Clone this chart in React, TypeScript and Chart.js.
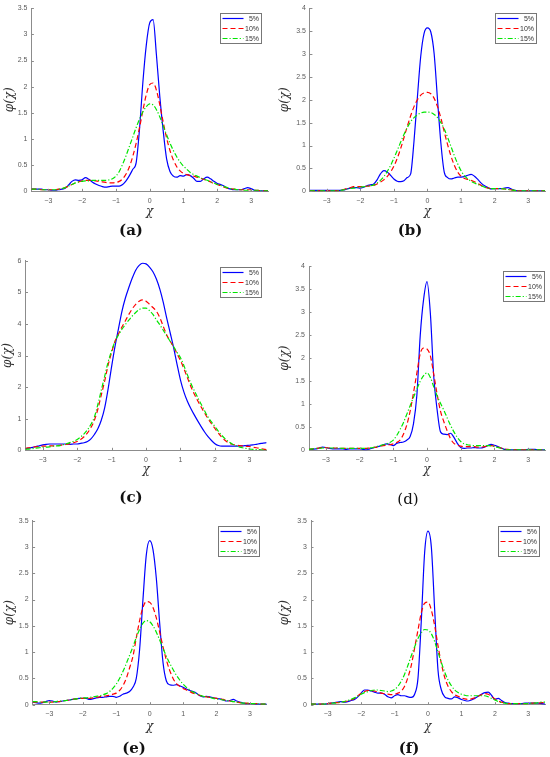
import React, { useEffect, useRef } from 'react';
import { Chart, registerables } from 'chart.js';

Chart.register(...registerables);

// x grid (chi)
const X = [
  -3.5, -3.4, -3.3, -3.2, -3.1, -3.0, -2.9, -2.8, -2.7, -2.6,
  -2.5, -2.4, -2.3, -2.2, -2.1, -2.0, -1.9, -1.8, -1.7, -1.6,
  -1.5, -1.4, -1.3, -1.2, -1.1, -1.0, -0.9, -0.8, -0.7, -0.6,
  -0.5, -0.4, -0.3, -0.2, -0.1, 0.0, 0.1, 0.2, 0.3, 0.4,
  0.5, 0.6, 0.7, 0.8, 0.9, 1.0, 1.1, 1.2, 1.3, 1.4,
  1.5, 1.6, 1.7, 1.8, 1.9, 2.0, 2.1, 2.2, 2.3, 2.4,
  2.5, 2.6, 2.7, 2.8, 2.9, 3.0, 3.1, 3.2, 3.3, 3.4, 3.5,
];

const SERIES_LABELS = ['5%', '10%', '15%'];

// (a)
const A5 = [
  .04, .04, .04, .04, .03, .03, .02, .02, .03, .04,
  .06, .12, .19, .22, .21, .22, .26, .23, .18, .14,
  .11, .09, .08, .09, .10, .10, .10, .13, .20, .30,
  .42, .55, 1.2, 2.1, 2.8, 3.22, 3.28, 2.6, 1.8, 1.15,
  .62, .38, .29, .27, .30, .29, .32, .30, .25, .19,
  .19, .24, .27, .24, .19, .15, .13, .10, .06, .04,
  .03, .03, .03, .05, .07, .05, .02, .01, .01, .01, .01,
];
const A10 = [
  .04, .04, .04, .03, .03, .03, .03, .03, .04, .05,
  .07, .10, .13, .16, .18, .20, .21, .21, .21, .20,
  .19, .18, .17, .16, .16, .17, .19, .24, .33, .47,
  .67, .92, 1.22, 1.55, 1.85, 2.04, 2.07, 1.93, 1.65, 1.32,
  1.02, .78, .60, .47, .39, .34, .32, .30, .29, .27,
  .25, .23, .21, .18, .15, .13, .11, .08, .06, .05,
  .04, .03, .03, .03, .03, .03, .02, .02, .01, .01, .01,
];
const A15 = [
  .04, .04, .04, .03, .03, .03, .03, .03, .04, .05,
  .07, .10, .13, .16, .18, .19, .20, .20, .21, .21,
  .21, .21, .21, .22, .24, .29, .38, .52, .68, .86,
  1.04, 1.22, 1.38, 1.52, 1.62, 1.67, 1.65, 1.56, 1.42, 1.25,
  1.08, .92, .78, .66, .56, .48, .42, .36, .32, .29,
  .26, .23, .21, .18, .16, .13, .11, .09, .07, .05,
  .04, .03, .03, .02, .02, .02, .02, .02, .01, .01, .01,
];

// (b)
const B5 = [
  .02, .02, .02, .02, .02, .02, .02, .02, .02, .02,
  .03, .05, .07, .08, .08, .07, .09, .12, .14, .16,
  .25, .38, .45, .42, .35, .27, .22, .21, .23, .30,
  .38, 1.1, 2.05, 2.95, 3.45, 3.57, 3.48, 3.0, 2.0, 1.05,
  .42, .30, .27, .29, .31, .31, .32, .35, .37, .33,
  .26, .18, .12, .08, .05, .06, .06, .06, .07, .08,
  .05, .02, .01, .01, .01, .01, .01, .01, .01, .01, .01,
];
const B10 = [
  .01, .01, .01, .01, .01, .01, .01, .01, .01, .02,
  .04, .06, .08, .10, .10, .10, .10, .11, .12, .13,
  .16, .20, .25, .32, .42, .55, .72, .93, 1.17, 1.42,
  1.65, 1.85, 2.0, 2.1, 2.15, 2.16, 2.13, 2.03, 1.85, 1.6,
  1.3, 1.02, .77, .57, .42, .33, .28, .26, .24, .21,
  .17, .13, .09, .07, .06, .06, .06, .06, .05, .04,
  .03, .02, .01, .01, .01, .01, .01, .01, .01, .01, .01,
];
const B15 = [
  .01, .01, .01, .01, .01, .01, .01, .01, .01, .02,
  .03, .05, .06, .07, .08, .09, .10, .11, .12, .14,
  .18, .24, .32, .43, .56, .72, .89, 1.07, 1.24, 1.39,
  1.52, 1.61, 1.67, 1.71, 1.73, 1.73, 1.72, 1.68, 1.61, 1.5,
  1.36, 1.18, .98, .78, .6, .45, .34, .27, .22, .18,
  .15, .12, .09, .07, .06, .06, .06, .06, .05, .04,
  .03, .02, .01, .01, .01, .01, .01, .01, .01, .01, .01,
];

// (c)
const C5 = [
  .05, .07, .09, .12, .14, .17, .19, .20, .20, .20,
  .20, .20, .20, .19, .20, .20, .22, .24, .28, .36,
  .5, .68, .95, 1.35, 1.95, 2.65, 3.3, 3.85, 4.4, 4.82,
  5.15, 5.45, 5.7, 5.85, 5.92, 5.9, 5.8, 5.65, 5.42, 5.1,
  4.68, 4.18, 3.72, 3.25, 2.72, 2.22, 1.84, 1.55, 1.32, 1.12,
  .93, .75, .58, .43, .31, .21, .15, .13, .13, .13,
  .13, .13, .14, .14, .15, .16, .17, .19, .21, .23, .24,
];
const C10 = [
  .06, .08, .10, .11, .12, .13, .13, .14, .14, .15,
  .16, .17, .19, .21, .24, .28, .34, .43, .55, .72,
  .95, 1.3, 1.75, 2.2, 2.7, 3.1, 3.45, 3.68, 3.9, 4.1,
  4.3, 4.48, 4.62, 4.72, 4.76, 4.72, 4.62, 4.52, 4.4, 4.2,
  3.92, 3.65, 3.45, 3.28, 3.05, 2.84, 2.58, 2.3, 2.02, 1.78,
  1.57, 1.37, 1.18, 1.0, .84, .69, .54, .41, .31, .23,
  .19, .17, .15, .14, .13, .12, .10, .08, .06, .04, .02,
];
const C15 = [
  .03, .04, .05, .07, .08, .09, .10, .11, .13, .14,
  .15, .18, .21, .25, .29, .34, .42, .52, .65, .82,
  1.05, 1.45, 1.9, 2.35, 2.8, 3.15, 3.45, 3.65, 3.83, 3.98,
  4.12, 4.25, 4.36, 4.45, 4.5, 4.5, 4.42, 4.3, 4.13, 3.97,
  3.8, 3.62, 3.45, 3.28, 3.1, 2.93, 2.68, 2.39, 2.12, 1.89,
  1.67, 1.46, 1.25, 1.05, .9, .75, .6, .47, .36, .27,
  .2, .15, .11, .08, .06, .04, .03, .02, .02, .01, .01,
];

// (d)
const D5 = [
  .02, .02, .03, .05, .07, .06, .04, .03, .03, .03,
  .03, .02, .03, .03, .03, .03, .02, .01, .03, .05,
  .07, .09, .12, .14, .13, .10, .15, .17, .18, .22,
  .3, .58, 1.2, 2.5, 3.28, 3.66, 2.97, 1.6, .88, .4,
  .35, .34, .37, .28, .15, .06, .04, .05, .05, .06,
  .05, .05, .07, .10, .13, .11, .08, .05, .02, .01,
  .01, .01, .01, .01, .01, .02, .02, .02, .01, .01, .01,
];
const D10 = [
  .02, .03, .04, .05, .06, .06, .05, .05, .05, .05,
  .04, .04, .04, .04, .04, .04, .04, .04, .05, .06,
  .07, .09, .10, .11, .12, .14, .17, .22, .35, .55,
  .85, 1.25, 1.68, 2.1, 2.22, 2.2, 2.05, 1.65, 1.22, .85,
  .62, .42, .25, .15, .11, .09, .08, .08, .08, .08,
  .07, .07, .08, .09, .10, .09, .07, .05, .03, .02,
  .01, .01, .01, .01, .01, .01, .01, .01, .01, .01, .01,
];
const D15 = [
  .02, .03, .04, .04, .05, .05, .05, .05, .05, .05,
  .04, .04, .04, .04, .04, .04, .04, .04, .05, .06,
  .08, .10, .12, .14, .17, .22, .32, .45, .6, .78,
  .97, 1.15, 1.33, 1.5, 1.62, 1.68, 1.58, 1.38, 1.18, 1.02,
  .87, .7, .54, .4, .28, .19, .14, .12, .11, .10,
  .10, .10, .10, .10, .10, .08, .06, .04, .02, .01,
  .01, .01, .01, .01, .01, .01, .01, .01, .01, .01, .01,
];

// (e)
const E5 = [
  .05, .04, .03, .04, .06, .08, .07, .05, .06, .07,
  .08, .09, .10, .11, .12, .12, .12, .10, .11, .13,
  .14, .14, .15, .16, .16, .14, .16, .20, .22, .25,
  .33, .5, 1.05, 2.0, 2.85, 3.12, 2.95, 2.4, 1.55, .8,
  .45, .38, .37, .38, .36, .33, .30, .27, .25, .22,
  .17, .15, .16, .15, .13, .12, .11, .09, .07, .08,
  .10, .07, .05, .03, .02, .02, .02, .01, .01, .01, .01,
];
const E10 = [
  .05, .05, .05, .05, .05, .05, .05, .06, .06, .07,
  .08, .09, .10, .11, .12, .12, .12, .12, .13, .14,
  .15, .16, .17, .18, .20, .22, .27, .36, .5, .7,
  .92, 1.27, 1.6, 1.85, 1.96, 1.95, 1.85, 1.65, 1.38, 1.1,
  .85, .65, .5, .4, .35, .31, .28, .25, .22, .20,
  .18, .16, .15, .14, .13, .12, .11, .10, .08, .07,
  .06, .05, .04, .03, .03, .02, .02, .02, .01, .01, .01,
];
const E15 = [
  .06, .06, .05, .05, .05, .05, .05, .06, .07, .07,
  .08, .09, .10, .11, .12, .13, .13, .14, .15, .16,
  .17, .19, .21, .25, .31, .39, .5, .63, .78, .94,
  1.1, 1.28, 1.43, 1.55, 1.6, 1.58, 1.5, 1.38, 1.23, 1.07,
  .92, .79, .67, .56, .47, .39, .33, .28, .24, .21,
  .18, .16, .15, .14, .12, .11, .10, .09, .08, .07,
  .06, .05, .04, .03, .03, .02, .02, .02, .01, .01, .01,
];

// (f)
const F5 = [
  .01, .01, .01, .01, .01, .02, .03, .04, .05, .06,
  .05, .06, .08, .10, .15, .22, .28, .28, .26, .24,
  .22, .22, .20, .15, .13, .17, .19, .17, .17, .15,
  .14, .2, .5, 1.6, 2.9, 3.3, 3.0, 1.8, .65, .28,
  .15, .12, .11, .15, .13, .10, .08, .07, .09, .12,
  .16, .20, .23, .24, .18, .10, .12, .08, .04, .03,
  .02, .02, .02, .02, .03, .03, .03, .03, .03, .02, .01,
];
const F10 = [
  .01, .01, .01, .01, .01, .02, .03, .04, .04, .05,
  .06, .07, .09, .12, .17, .22, .25, .27, .27, .26,
  .24, .22, .21, .20, .19, .20, .22, .26, .35, .52,
  .75, 1.08, 1.42, 1.75, 1.93, 1.95, 1.8, 1.5, 1.12, .78,
  .52, .35, .25, .19, .16, .13, .11, .10, .11, .13,
  .16, .19, .21, .20, .16, .11, .07, .05, .03, .02,
  .02, .02, .02, .02, .02, .02, .03, .03, .03, .04, .04,
];
const F15 = [
  .01, .01, .01, .01, .01, .02, .03, .03, .04, .05,
  .06, .08, .10, .13, .16, .20, .23, .25, .27, .28,
  .28, .27, .26, .25, .26, .29, .35, .45, .58, .75,
  .93, 1.1, 1.26, 1.37, 1.43, 1.42, 1.35, 1.2, 1.0, .8,
  .62, .47, .36, .28, .23, .20, .18, .17, .17, .17,
  .17, .17, .17, .15, .12, .09, .06, .04, .03, .02,
  .02, .02, .02, .02, .02, .02, .03, .03, .04, .05, .05,
];

const XTICKS = [-3, -2, -1, 0, 1, 2, 3];
const YTICKS_35 = [0, 0.5, 1, 1.5, 2, 2.5, 3, 3.5];
const YTICKS_4 = [0, 0.5, 1, 1.5, 2, 2.5, 3, 3.5, 4];
const YTICKS_6 = [0, 1, 2, 3, 4, 5, 6];
const CAPTIONS = ['(a)', '(b)', '(c)', '(d)', '(e)', '(f)'];
const X_TITLE = 'χ';
const Y_TITLE = 'φ(χ)';

const COLORS = ['rgb(0, 0, 255)', 'rgb(255, 0, 0)', 'rgb(0, 230, 0)'];
const DASHES: number[][] = [[], [5, 3], [5, 2, 1.2, 2]];
const AXIS_COLOR = '#8c8c8c';
const TICK_COLOR = '#5a5a5a';
const SANS = '"Liberation Sans", Arial, sans-serif';
const SERIF = '"DejaVu Serif", serif';

type Box = { l: number; t: number; w: number; h: number };
type Plot = { l: number; r: number; t: number; b: number };
type PanelCfg = {
  series: number[][];
  yMax: number;
  yTicks: number[];
  cv: Box;
  plot: Plot;
  cap: { x: number; y: number; bold: boolean };
  leg: { r: number; t: number };
  yTitleX: number;
  xTitleY: number;
};

const PANELS: PanelCfg[] = [
  { series: [A5, A10, A15], yMax: 3.5, yTicks: YTICKS_35, cv: { l: 0, t: 0, w: 275, h: 222 }, plot: { l: 31.4, r: 268, t: 7.3, b: 191.3 }, cap: { x: 131, y: 230, bold: true }, leg: { r: 7, t: 5.2 }, yTitleX: 10, xTitleY: 212 },
  { series: [B5, B10, B15], yMax: 4, yTicks: YTICKS_4, cv: { l: 275, t: 0, w: 275, h: 222 }, plot: { l: 309.9, r: 545, t: 7.3, b: 191.3 }, cap: { x: 410, y: 230, bold: true }, leg: { r: 9, t: 5 }, yTitleX: 285, xTitleY: 212 },
  { series: [C5, C10, C15], yMax: 6, yTicks: YTICKS_6, cv: { l: 0, t: 250, w: 275, h: 230 }, plot: { l: 25.5, r: 266.6, t: 260.7, b: 450.3 }, cap: { x: 131, y: 497, bold: true }, leg: { r: 5.6, t: 6 }, yTitleX: 8, xTitleY: 470 },
  { series: [D5, D10, D15], yMax: 4, yTicks: YTICKS_4, cv: { l: 275, t: 250, w: 275, h: 230 }, plot: { l: 309, r: 545, t: 266, b: 450.3 }, cap: { x: 408, y: 499, bold: false }, leg: { r: 1.5, t: 4.7 }, yTitleX: 285, xTitleY: 470 },
  { series: [E5, E10, E15], yMax: 3.5, yTicks: YTICKS_35, cv: { l: 0, t: 505, w: 275, h: 232 }, plot: { l: 32.6, r: 266.7, t: 520.7, b: 704.7 }, cap: { x: 134, y: 748, bold: true }, leg: { r: 7.7, t: 5 }, yTitleX: 10, xTitleY: 726.7 },
  { series: [F5, F10, F15], yMax: 3.5, yTicks: YTICKS_35, cv: { l: 275, t: 505, w: 275, h: 232 }, plot: { l: 311, r: 545, t: 520.7, b: 704.7 }, cap: { x: 409, y: 748, bold: true }, leg: { r: 5.7, t: 5 }, yTitleX: 285, xTitleY: 726.7 },
];

const fmt = (v: number) => {
  const s = String(Math.abs(Math.round(v * 100) / 100));
  return v < 0 ? '\u2212' + s : s;
};

const innerTicks = {
  id: 'innerTicks',
  afterDraw(chart: any) {
    const { ctx, chartArea, scales } = chart;
    ctx.save();
    ctx.strokeStyle = AXIS_COLOR;
    ctx.lineWidth = 1;
    for (const t of scales.x.ticks) {
      const px = Math.round(scales.x.getPixelForValue(t.value)) + 0.5;
      ctx.beginPath();
      ctx.moveTo(px, chartArea.bottom);
      ctx.lineTo(px, chartArea.bottom - 2.5);
      ctx.stroke();
    }
    for (const t of scales.y.ticks) {
      const py = Math.round(scales.y.getPixelForValue(t.value)) + 0.5;
      ctx.beginPath();
      ctx.moveTo(chartArea.left, py);
      ctx.lineTo(chartArea.left + 2.5, py);
      ctx.stroke();
    }
    ctx.restore();
  },
};

const boxLegend = {
  id: 'boxLegend',
  afterDraw(chart: any, _args: any, opts: any) {
    const { ctx, chartArea } = chart;
    const w = 41;
    const h = 30;
    const x1 = Math.round(chartArea.right - opts.r) + 0.5;
    const x0 = x1 - w;
    const y0 = Math.round(chartArea.top + opts.t) + 0.5;
    ctx.save();
    ctx.fillStyle = '#ffffff';
    ctx.fillRect(x0, y0, w, h);
    ctx.strokeStyle = '#777777';
    ctx.lineWidth = 1;
    ctx.setLineDash([]);
    ctx.strokeRect(x0, y0, w, h);
    chart.data.datasets.forEach((ds: any, i: number) => {
      const y = y0 + 5 + i * 10;
      ctx.beginPath();
      ctx.strokeStyle = ds.borderColor;
      ctx.lineWidth = 1.2;
      ctx.setLineDash(ds.borderDash || []);
      ctx.moveTo(x0 + 2, y);
      ctx.lineTo(x0 + 23, y);
      ctx.stroke();
      ctx.setLineDash([]);
      ctx.fillStyle = '#333333';
      ctx.font = `7px ${SANS}`;
      ctx.textAlign = 'right';
      ctx.textBaseline = 'middle';
      ctx.fillText(ds.label, x1 - 2.5, y + 0.5);
    });
    ctx.restore();
  },
};

function Panel({ p }: { p: PanelCfg }) {
  const ref = useRef<HTMLCanvasElement>(null);
  useEffect(() => {
    const canvas = ref.current;
    if (!canvas) return;
    const yW = p.plot.l - p.cv.l;
    const xH = p.cv.t + p.cv.h - p.plot.b;
    const padTop = p.plot.t - p.cv.t;
    const padRight = p.cv.l + p.cv.w - p.plot.r;
    const xTitleOff = p.cv.t + p.cv.h - p.xTitleY;
    const yTitleOff = p.yTitleX - p.cv.l;
    const titleSize = 12;
    const chart = new Chart(canvas, {
      type: 'line',
      data: {
        datasets: p.series.map((s, i) => ({
          label: SERIES_LABELS[i],
          data: X.map((x, j) => ({ x, y: s[j] })),
          borderColor: COLORS[i],
          backgroundColor: COLORS[i],
          borderWidth: 1.2,
          borderDash: DASHES[i],
          pointRadius: 0,
          fill: false,
          cubicInterpolationMode: 'monotone',
          order: 3 - i,
        })),
      },
      options: {
        responsive: false,
        animation: false,
        events: [],
        layout: { padding: { top: padTop, right: padRight, left: 0, bottom: 0 } },
        plugins: {
          legend: { display: false },
          tooltip: { enabled: false },
          colors: { enabled: false },
          boxLegend: { r: p.leg.r, t: p.leg.t },
        } as any,
        scales: {
          x: {
            type: 'linear',
            min: -3.5,
            max: 3.5,
            afterBuildTicks: (s: any) => { s.ticks = XTICKS.map((v) => ({ value: v })); },
            afterFit: (s: any) => { s.height = xH; },
            grid: { display: false, drawTicks: false },
            border: { display: true, color: AXIS_COLOR, width: 1 },
            ticks: {
              padding: 5.5,
              color: TICK_COLOR,
              font: { family: SANS, size: 7 },
              autoSkip: false,
              maxRotation: 0,
              callback: (v: any) => fmt(Number(v)),
            },
            title: {
              display: true,
              text: X_TITLE,
              color: '#333333',
              font: { family: SERIF, style: 'italic', size: titleSize, lineHeight: 1 },
              padding: { top: 0, bottom: xTitleOff - titleSize / 2 },
            },
          },
          y: {
            type: 'linear',
            min: 0,
            max: p.yMax,
            afterBuildTicks: (s: any) => { s.ticks = p.yTicks.map((v) => ({ value: v })); },
            afterFit: (s: any) => { s.width = yW; },
            grid: { display: false, drawTicks: false },
            border: { display: true, color: AXIS_COLOR, width: 1 },
            ticks: {
              padding: 4,
              color: TICK_COLOR,
              font: { family: SANS, size: 7 },
              autoSkip: false,
              callback: (v: any) => fmt(Number(v)),
            },
            title: {
              display: true,
              text: Y_TITLE,
              color: '#333333',
              font: { family: SERIF, style: 'italic', size: titleSize, lineHeight: 1 },
              padding: { top: yTitleOff - titleSize / 2, bottom: 0 },
            },
          },
        },
      } as any,
      plugins: [innerTicks, boxLegend],
    });
    return () => chart.destroy();
  }, [p]);
  return (
    <canvas
      ref={ref}
      width={p.cv.w}
      height={p.cv.h}
      style={{ position: 'absolute', left: p.cv.l, top: p.cv.t, width: p.cv.w, height: p.cv.h }}
    />
  );
}

export default function App() {
  return (
    <div style={{ position: 'absolute', left: 0, top: 0, width: 550, height: 757, background: '#ffffff', overflow: 'hidden' }}>
      {PANELS.map((p, i) => (
        <React.Fragment key={i}>
          <Panel p={p} />
          <div
            style={{
              position: 'absolute',
              left: p.cap.x,
              top: p.cap.y,
              transform: 'translate(-50%, -50%)',
              fontFamily: SERIF,
              fontWeight: p.cap.bold ? 'bold' : 'normal',
              fontSize: 15,
              lineHeight: '15px',
              color: '#111111',
              whiteSpace: 'nowrap',
            }}
          >
            {CAPTIONS[i]}
          </div>
        </React.Fragment>
      ))}
    </div>
  );
}
